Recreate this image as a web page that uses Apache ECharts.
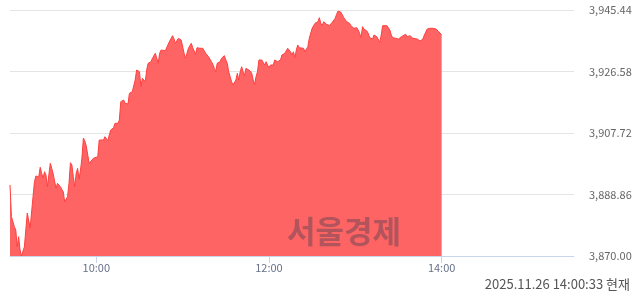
<!DOCTYPE html>
<html>
<head>
<meta charset="utf-8">
<script src="https://cdn.jsdelivr.net/npm/echarts@6/dist/echarts.min.js"></script>
<style>
html,body{margin:0;padding:0;background:#fff;}
#chart{width:640px;height:294px;}
</style>
</head>
<body>
<div id="chart"></div>
<script>
// minutes after 09:00 opening
const minutes = [0,1,3,4,5,6,7,8,10,11,12,13,14,16,17,18,19,20,21,22,23,24,25,26,28,29,30,31,32,33,35,36,37,38,39,40,41,42,43,44,45,46,47,48,49,50,51,52,53,54,55,56,58,59,61,62,63,65,66,67,68,69,70,72,73,74,75,76,77,79,80,81,82,83,84,85,87,88,89,90,91,92,93,94,95,96,97,98,99,101,102,103,104,105,106,108,109,110,111,112,113,114,115,116,117,118,119,120,121,122,123,124,126,127,128,129,130,131,132,133,134,135,136,138,139,140,141,142,143,144,145,146,147,149,150,151,152,153,154,155,156,157,158,159,160,161,162,163,164,165,167,168,169,170,171,172,173,174,175,177,178,179,180,181,182,183,184,186,187,188,189,190,191,193,194,195,196,197,198,199,200,201,202,204,205,206,207,208,209,210,211,212,214,215,216,217,218,219,220,221,222,223,224,226,227,228,229,230,231,232,233,234,235,236,237,238,239,240,241,242,243,244,245,246,247,248,249,250,251,252,253,254,255,256,257,258,259,260,262,263,264,265,266,267,268,270,271,272,273,275,276,277,278,279,280,281,283,284,285,286,287,288,290,291,292,293,294,296,297,298,299,300];
const kospi = [3891.77,3882.05,3878.99,3877.97,3872.85,3875.92,3871.84,3870.00,3872.85,3877.97,3883.19,3883.28,3878.59,3888.19,3892.79,3894.53,3893.92,3894.32,3897.20,3895.36,3893.92,3895.85,3894.84,3891.25,3898.43,3896.89,3895.15,3894.84,3890.76,3892.29,3891.25,3890.45,3889.72,3886.65,3886.16,3888.19,3892.29,3898.61,3897.91,3894.32,3891.25,3895.36,3896.89,3893.52,3896.37,3900.05,3906.19,3905.27,3903.73,3903.12,3898.43,3898.92,3899.96,3899.96,3900.45,3905.57,3906.10,3905.57,3906.59,3907.11,3905.36,3907.11,3908.64,3909.35,3910.70,3911.19,3910.70,3911.71,3917.32,3917.84,3916.83,3916.31,3916.61,3919.90,3920.39,3920.39,3923.97,3927.04,3927.26,3926.52,3921.92,3924.50,3923.97,3923.45,3927.04,3929.10,3929.59,3929.59,3930.63,3932.16,3930.63,3929.10,3932.16,3933.17,3932.96,3932.96,3932.65,3935.01,3935.23,3936.76,3937.56,3936.55,3935.23,3934.92,3936.76,3936.24,3936.24,3935.93,3932.16,3930.63,3932.16,3933.70,3935.23,3933.88,3932.87,3931.86,3933.88,3934.19,3933.70,3933.88,3933.70,3933.48,3932.16,3931.12,3930.63,3929.59,3928.79,3927.56,3926.52,3929.10,3929.40,3929.59,3930.63,3931.43,3930.11,3929.10,3926.52,3924.99,3923.45,3922.44,3921.92,3923.97,3926.03,3923.97,3926.52,3928.05,3926.52,3925.29,3927.56,3927.04,3926.73,3926.03,3923.97,3922.66,3924.99,3926.52,3930.11,3930.63,3930.11,3928.57,3929.59,3928.57,3927.75,3928.57,3929.10,3928.57,3930.11,3929.59,3929.80,3930.11,3931.64,3931.64,3932.16,3933.70,3933.48,3932.65,3931.64,3932.65,3930.81,3933.17,3934.71,3933.88,3933.70,3933.70,3932.65,3932.16,3934.19,3936.76,3936.76,3939.83,3940.63,3941.36,3941.85,3943.08,3941.36,3940.63,3941.85,3942.37,3941.06,3940.63,3940.69,3940.84,3941.67,3942.90,3944.12,3945.13,3945.44,3944.74,3943.91,3943.08,3943.39,3941.85,3941.67,3941.36,3940.63,3940.84,3939.83,3939.61,3940.01,3939.31,3938.30,3936.95,3940.32,3939.61,3939.00,3939.00,3938.30,3936.95,3937.25,3936.55,3937.77,3937.99,3937.25,3936.76,3935.54,3937.77,3940.63,3940.84,3940.63,3940.84,3939.31,3937.77,3936.95,3936.76,3936.76,3936.55,3936.55,3937.25,3937.56,3937.99,3937.25,3937.77,3937.56,3936.95,3936.76,3936.76,3936.55,3936.24,3935.93,3935.54,3936.55,3937.77,3939.61,3939.00,3939.83,3939.31,3939.83,3939.61,3939.83,3938.79,3938.60,3937.77];

const yTicks = [3870.00, 3888.86, 3907.72, 3926.58, 3945.44];
const xTicks = [60, 180, 300];
const xTickLabels = ['10:00', '12:00', '14:00'];
const axisEndMinute = 392;
const stampText = '2025.11.26 14:00:33 현재';
const watermarkText = '서울경제';

const FONT = '"Noto Sans CJK KR", "Noto Sans", sans-serif';
const seriesData = minutes.map((m, i) => [m, kospi[i]]);

const chart = echarts.init(document.getElementById('chart'), null, {renderer: 'canvas'});
chart.setOption({
  animation: false,
  grid: {left: 10, right: 66, top: 10, bottom: 38, containLabel: false},
  xAxis: {
    type: 'value',
    min: 0,
    max: axisEndMinute,
    axisLine: {show: true, lineStyle: {color: '#c8d4ec', width: 1}},
    axisTick: {show: true, length: 7, customValues: xTicks, lineStyle: {color: '#c8d4ec'}},
    axisLabel: {
      show: true, customValues: xTicks, margin: 6,
      color: '#66718a', fontSize: 11, fontFamily: FONT,
      formatter: v => xTickLabels[xTicks.indexOf(v)] || ''
    },
    splitLine: {show: false}
  },
  yAxis: {
    type: 'value',
    position: 'right',
    min: yTicks[0],
    max: yTicks[yTicks.length - 1],
    axisLine: {show: false},
    axisTick: {show: false, customValues: yTicks},
    axisLabel: {
      show: true, customValues: yTicks, margin: 15,
      color: '#666666', fontSize: 11, fontFamily: FONT,
      formatter: v => v.toLocaleString('en-US', {minimumFractionDigits: 2, maximumFractionDigits: 2})
    },
    splitLine: {show: true, lineStyle: {color: '#e4e4e4', width: 1}}
  },
  series: [{
    type: 'line',
    data: seriesData,
    showSymbol: false,
    smooth: false,
    lineStyle: {color: '#ff4040', width: 1},
    areaStyle: {color: '#ff6464', opacity: 1, origin: 'start'},
    z: 2
  }],
  graphic: [
    {
      type: 'text', left: 287, top: 216, z: 100,
      style: {text: watermarkText, fill: 'rgba(60,60,80,0.4)', font: 'bold 31px ' + FONT}
    },
    {
      type: 'text', right: 10, top: 278, z: 100,
      style: {text: stampText, fill: '#555555', font: '13px ' + FONT}
    }
  ]
});
</script>
</body>
</html>
